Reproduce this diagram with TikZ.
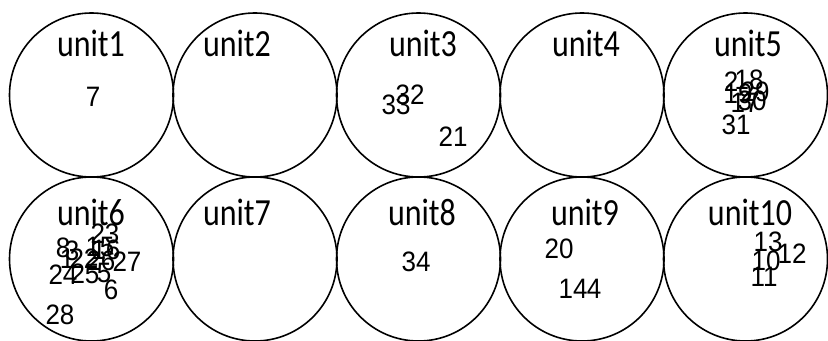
\documentclass[tikz,border=0pt]{standalone}
\usepackage{fontspec}
\setmainfont{Liberation Sans}
\newfontfamily\unitfont{Carlito}
\usetikzlibrary{positioning}

\tikzset{
  unitcircle/.style={circle, draw, line width=0.8pt, minimum size=82pt, inner sep=0pt},
  unitlabel/.style={font=\unitfont\fontsize{16}{16}\selectfont, inner sep=0pt,
                    yscale=1.2, transform shape},
  obs/.style={font=\fontsize{13}{13}\selectfont, inner sep=0pt,
              yscale=1.08, transform shape}
}

\begin{document}
\begin{tikzpicture}[x=0.5pt, y=-0.5pt]
  \useasboundingbox (0,0) rectangle (828,341);

  % Grille des unites (2 x 5)
  \foreach \i/\x/\y in {1/91.5/95, 2/255/95, 3/418.5/95, 4/582/95, 5/745.5/95,
                        6/91.5/259, 7/255/259, 8/418.5/259, 9/582/259, 10/745.5/259} {
    \node[unitcircle] (u\i) at (\x, \y) {};
  }

  % Noms des unites
  \foreach \i/\x/\y in {1/91/43, 2/237/43, 3/423/43, 4/586/43, 5/748/43,
                        6/91/212, 7/237/212, 8/422/212, 9/585/212, 10/750/212} {
    \node[unitlabel] (lab\i) at (\x, \y) {unit\i};
  }

  % Observations par unite
  \foreach \n/\x/\y in {7/93/97,                                  % unit1
                        32/410/95, 33/396/105, 21/453/137,         % unit3
                        2/731/82, 18/749/80, 19/738/94, 29/755/92,
                        17/745/103, 30/752/101, 31/736/125,        % unit5
                        23/105/234, 8/63/248, 3/72/251, 15/100/247,
                        16/106/250, 1/67/259, 22/84/259, 26/101/261,
                        27/127/262, 24/63/275, 25/85/274, 5/104/273,
                        6/111/290, 28/60/315,                      % unit6
                        34/416/262,                                % unit8
                        20/559/249, 14/573/289, 4/594/289,         % unit9
                        13/768/242, 12/792/254, 10/766/261, 11/764/277} { % unit10
    \node[obs] (n\n) at (\x, \y) {\n};
  }
\end{tikzpicture}
\end{document}
